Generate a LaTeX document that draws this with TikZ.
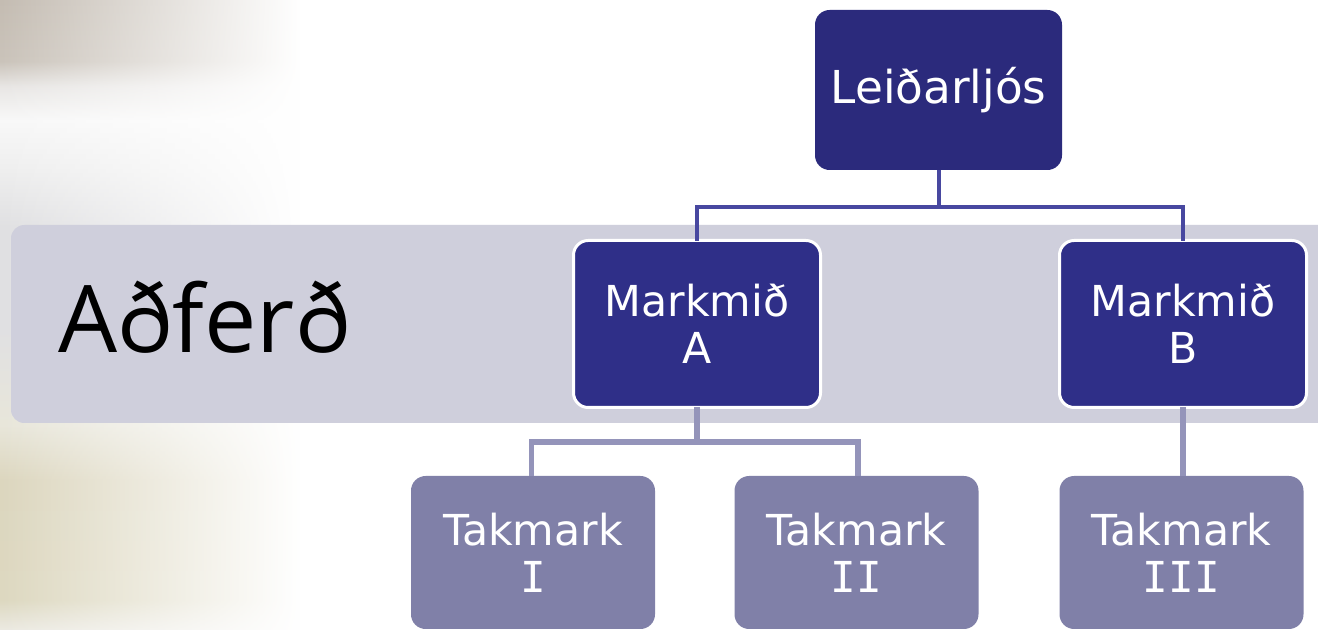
\documentclass[tikz,border=0pt]{standalone}
\usepackage{fontspec}
\usetikzlibrary{fadings}
\setmainfont{DejaVu Sans}
\newfontfamily\headfont{Open Sans}
\newfontfamily\numfont{DejaVu Sans Mono}
\definecolor{topbox}{HTML}{2B2A7C}
\definecolor{midbox}{HTML}{2F2F88}
\definecolor{lowbox}{HTML}{8080A8}
\definecolor{bandc}{HTML}{CFCFDC}
\definecolor{connA}{HTML}{4848A0}
\definecolor{connB}{HTML}{9494BA}
\definecolor{bgA}{HTML}{C4BCB2}
\definecolor{bgB}{HTML}{CAC3BA}
\definecolor{bgC}{HTML}{E8E6E4}
\definecolor{bgD}{HTML}{F8F8F8}
\definecolor{bgE}{HTML}{EEEEEE}
\definecolor{bgF}{HTML}{E0E0E2}
\definecolor{bgG}{HTML}{E8E6DA}
\definecolor{bgH}{HTML}{DCD6BE}
\definecolor{bgI}{HTML}{DDD8C0}
\definecolor{bgJ}{HTML}{ECEAE2}
\pgfdeclareverticalshading{bgshade}{100bp}{color(0bp)=(bgJ); color(25bp)=(bgJ);
  color(27.4bp)=(bgI); color(36.9bp)=(bgH); color(41.3bp)=(bgG); color(49bp)=(bgF);
  color(57.1bp)=(bgF); color(61.5bp)=(bgE); color(65.5bp)=(bgD); color(68.2bp)=(bgC);
  color(70.2bp)=(bgB); color(75bp)=(bgA); color(100bp)=(bgA)}
\tikzfading[name=fadeR, left color=transparent!0, right color=transparent!100]
\tikzset{
  box/.style={rectangle, rounded corners=11pt, text=white, align=center,
    font=\fontsize{32}{35}\selectfont, inner sep=0pt},
  topstyle/.style={box, fill=topbox, minimum width=185.25pt, minimum height=120pt,
    font=\fontsize{34}{37}\selectfont},
  midstyle/.style={box, fill=midbox, draw=white, line width=2.25pt,
    minimum width=185.25pt, minimum height=125.25pt},
  lowstyle/.style={box, fill=lowbox, minimum width=183pt, minimum height=114.75pt},
  connup/.style={draw=connA, line width=3pt},
  conndown/.style={draw=connB, line width=4.2pt},
  bgfade/.style={path fading=fadeR},
}
\begin{document}
\begin{tikzpicture}[x=0.75pt,y=-0.75pt]
\useasboundingbox (0,0) rectangle (1318,630);
\begin{scope}
\clip (0,0) rectangle (1318,630);
\fill[white] (0,0) rectangle (1318,630);
% faded background at left
\shade[bgfade, shading=bgshade] (0,0) rectangle (300,630);
% band
\fill[bandc, rounded corners=10pt] (11,225) rectangle (1340,423);
\node[anchor=base west, inner sep=0pt, font=\headfont\fontsize{70}{74}\selectfont, text=black] (method) at (58,353) {Aðferð};

% nodes
\node[topstyle] (L) at (938.5,90) {\raisebox{-4pt}{Leiðarljós}};
\node[midstyle] (A) at (697,324) {Markmið\\A};
\node[midstyle] (B) at (1183,324) {Markmið\\B};
\node[lowstyle] (T1) at (533,552.5) {\raisebox{-2pt}{Takmark}\\\raisebox{-2pt}{\numfont I}};
\node[lowstyle] (T2) at (856.5,552.5) {\raisebox{-2pt}{Takmark}\\\raisebox{-2pt}{\numfont II}};
\node[lowstyle] (T3) at (1181.5,552.5) {\raisebox{-2pt}{Takmark}\\\raisebox{-2pt}{\numfont III}};

% connectors
\coordinate (j1) at (938.5,207);
\coordinate (j2) at (697,442);
\draw[connup] (L.south) -- (j1);
\draw[connup] (j1) -| ([yshift=-1.2pt]A.north);
\draw[connup] (j1) -| ([yshift=-1.2pt]B.north);
\draw[conndown] ([yshift=1.2pt]A.south) -- (j2);
\draw[conndown] (j2) -| ([xshift=-1pt]T1.north);
\draw[conndown] (j2) -| ([xshift=1pt]T2.north);
\draw[conndown] ([yshift=1.2pt]B.south) -- (B.south |- T3.north);
\end{scope}
\end{tikzpicture}
\end{document}
